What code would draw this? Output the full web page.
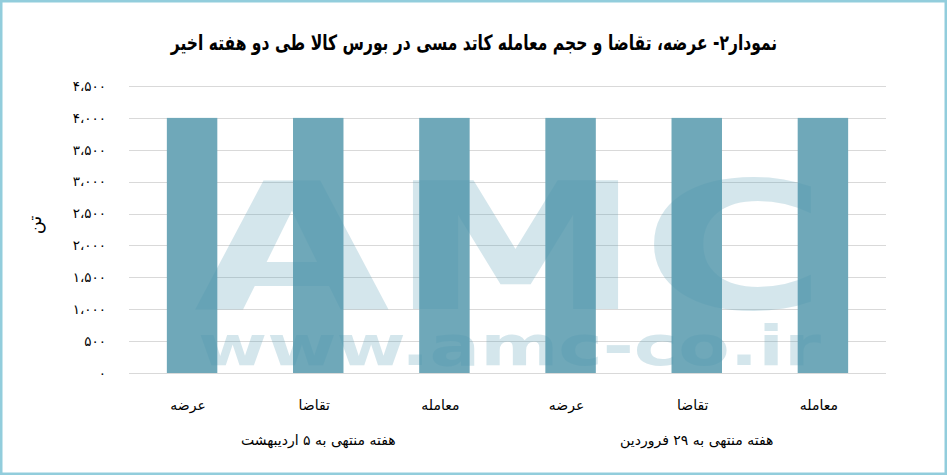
<!DOCTYPE html>
<html>
<head>
<meta charset="utf-8">
<script src="https://cdn.jsdelivr.net/npm/d3@7"></script>
<style>
  html, body { margin: 0; padding: 0; background: #fff; }
  svg { display: block; }
</style>
</head>
<body>
<div id="chart"></div>
<script>
// données
const groups = ["هفته منتهی به ۵ اردیبهشت", "هفته منتهی به ۲۹ فروردین"];
const categories = ["عرضه", "تقاضا", "معامله"];
const values = [4000, 4000, 4000, 4000, 4000, 4000];
const tickValues = [0, 500, 1000, 1500, 2000, 2500, 3000, 3500, 4000, 4500];
const tickLabels = ["۰", "۵۰۰", "۱،۰۰۰", "۱،۵۰۰", "۲،۰۰۰", "۲،۵۰۰", "۳،۰۰۰", "۳،۵۰۰", "۴،۰۰۰", "۴،۵۰۰"];

const title = "نمودار۲- عرضه، تقاضا و حجم معامله کاتد مسی در بورس کالا طی دو هفته اخیر";
const yLabel = "تن";

const width = 947,
  height = 475;
const margin = { top: 86, right: 61, bottom: 102, left: 129 };
const fontFa = "'DejaVu Sans', sans-serif";

// une ligne par barre
const rows = [];
groups.forEach((g, gi) => {
  categories.forEach((c, ci) => {
    rows.push({ key: gi + "-" + ci, group: g, cat: c, value: values[gi * categories.length + ci] });
  });
});

const svg = d3
  .select("#chart")
  .append("svg")
  .attr("width", width)
  .attr("height", height);

// bordure
svg
  .append("rect")
  .attr("x", 1.25)
  .attr("y", 1.25)
  .attr("width", width - 2.5)
  .attr("height", height - 2.5)
  .attr("fill", "#fff")
  .attr("stroke", "#92cddc")
  .attr("stroke-width", 2.5);

const x = d3
  .scaleBand()
  .domain(rows.map((d) => d.key))
  .range([margin.left, width - margin.right])
  .paddingInner(0.6)
  .paddingOuter(0.3);

const y = d3
  .scaleLinear()
  .domain([0, 4500])
  .range([height - margin.bottom, margin.top]);

// grille
svg
  .append("g")
  .selectAll("line")
  .data(tickValues)
  .enter()
  .append("line")
  .attr("x1", margin.left)
  .attr("x2", width - margin.right)
  .attr("y1", (d) => Math.round(y(d)) + 0.5)
  .attr("y2", (d) => Math.round(y(d)) + 0.5)
  .attr("stroke", "#d9d9d9")
  .attr("stroke-width", 1);

// axe Y (texte seulement)
const yAxis = svg
  .append("g")
  .attr("transform", "translate(" + 106 + ",0)")
  .call(
    d3
      .axisLeft(y)
      .tickValues(tickValues)
      .tickSize(0)
      .tickPadding(0)
      .tickFormat((d, i) => tickLabels[i])
  );
yAxis.select(".domain").remove();
yAxis
  .selectAll("text")
  .attr("font-family", fontFa)
  .attr("font-size", 13.5)
  .attr("fill", "#000");

// barres
svg
  .append("g")
  .selectAll("rect")
  .data(rows)
  .enter()
  .append("rect")
  .attr("x", (d) => x(d.key))
  .attr("y", (d) => y(d.value))
  .attr("width", x.bandwidth())
  .attr("height", (d) => y(0) - y(d.value))
  .attr("fill", "#6fa8b9");

// filigrane AMC (par-dessus les barres, transparent) - un seul texte, deux lignes
const wm = svg
  .append("text")
  .attr("fill", "#4b96af")
  .attr("opacity", 0.23)
  .attr("font-family", "'DejaVu Sans', sans-serif")
  .attr("font-weight", "bold");
wm.append("tspan")
  .attr("x", 194)
  .attr("y", 309)
  .attr("textLength", 633)
  .attr("lengthAdjust", "spacingAndGlyphs")
  .attr("font-size", 177)
  .text("AMC");
wm.append("tspan")
  .attr("x", 198)
  .attr("y", 365)
  .attr("textLength", 623)
  .attr("lengthAdjust", "spacingAndGlyphs")
  .attr("font-size", 56)
  .text("www.amc-co.ir");

// libellés des catégories
svg
  .append("g")
  .selectAll("text")
  .data(rows)
  .enter()
  .append("text")
  .attr("x", (d) => x(d.key) + x.bandwidth() / 2 - 4)
  .attr("y", 410)
  .attr("text-anchor", "middle")
  .attr("font-family", fontFa)
  .attr("font-size", 14)
  .text((d) => d.cat);

// libellés des groupes
const plotW = width - margin.left - margin.right;
svg
  .append("g")
  .selectAll("text")
  .data(groups)
  .enter()
  .append("text")
  .attr("x", (d, i) => margin.left + ((i + 0.5) * plotW) / groups.length)
  .attr("y", 445)
  .attr("text-anchor", "middle")
  .attr("font-family", fontFa)
  .attr("font-size", 14)
  .text((d) => d);

// titre de l'axe Y
svg
  .append("text")
  .attr("transform", "translate(41,225) rotate(-90)")
  .attr("text-anchor", "middle")
  .attr("font-family", fontFa)
  .attr("font-size", 18)
  .text(yLabel);

// titre (police condensée horizontalement)
svg
  .append("text")
  .attr("transform", "translate(474,50) scale(0.74,1)")
  .attr("text-anchor", "middle")
  .attr("direction", "rtl")
  .attr("font-family", fontFa)
  .attr("font-weight", "bold")
  .attr("font-size", 21)
  .text(title);
</script>
</body>
</html>
